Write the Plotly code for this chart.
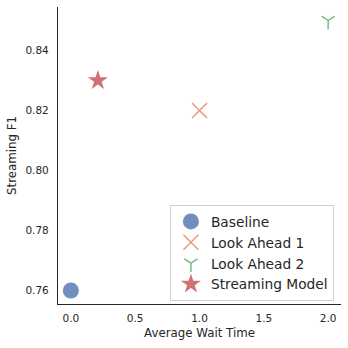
import plotly.graph_objects as go

# Wait time vs. streaming F1 for each model
models = ["Baseline", "Look Ahead 1", "Look Ahead 2", "Streaming Model"]
wait_time = [0.0, 1.0, 2.0, 0.21]
streaming_f1 = [0.76, 0.82, 0.85, 0.83]

colors = ["rgba(76,114,176,0.8)", "rgba(221,132,82,0.8)",
          "rgba(85,168,104,0.8)", "rgba(196,78,82,0.8)"]
symbols = ["circle", "x-thin-open", "y-down-open", "star"]
sizes = [16, 15, 11, 15]

x_ticks = [0.0, 0.5, 1.0, 1.5, 2.0]
y_ticks = [0.76, 0.78, 0.80, 0.82, 0.84]

fig = go.Figure()
for name, x, y, c, s, sz in zip(models, wait_time, streaming_f1, colors, symbols, sizes):
    open_sym = s.endswith("open")
    fig.add_trace(go.Scatter(
        x=[x], y=[y], mode="markers", name=name,
        marker=dict(symbol=s, size=sz, color=c,
                    line=dict(width=1.5 if open_sym else 0, color=c)),
    ))

font = "DejaVu Sans"
fig.update_layout(
    width=348, height=348,
    margin=dict(l=58, r=7, t=7, b=44),
    paper_bgcolor="white", plot_bgcolor="white",
    font=dict(family=font, color="#262626"),
    showlegend=True,
    legend=dict(
        x=0.975, y=0.01, xanchor="right", yanchor="bottom",
        bgcolor="rgba(255,255,255,0.8)", bordercolor="#d0d0d0", borderwidth=1,
        font=dict(family=font, size=13.75, color="#262626"),
        tracegroupgap=0,
    ),
    xaxis=dict(
        range=[-0.1, 2.1], tickvals=x_ticks, ticktext=[f"{v:.1f}" for v in x_ticks],
        showgrid=False, zeroline=False, showline=True, linecolor="#262626", linewidth=1.25,
        ticks="outside", ticklen=4, tickcolor="white",
        tickfont=dict(size=10.5, color="#262626"),
        title=dict(text="Average Wait Time", font=dict(size=11.8, color="#262626"), standoff=6),
    ),
    yaxis=dict(
        range=[0.7555, 0.8545], tickvals=y_ticks, ticktext=[f"{v:.2f}" for v in y_ticks],
        showgrid=False, zeroline=False, showline=True, linecolor="#262626", linewidth=1.25,
        ticks="outside", ticklen=6, tickcolor="white",
        tickfont=dict(size=10.5, color="#262626"),
        title=dict(text="Streaming F1", font=dict(size=11.8, color="#262626"), standoff=6),
    ),
)

fig.write_html("out.html")
